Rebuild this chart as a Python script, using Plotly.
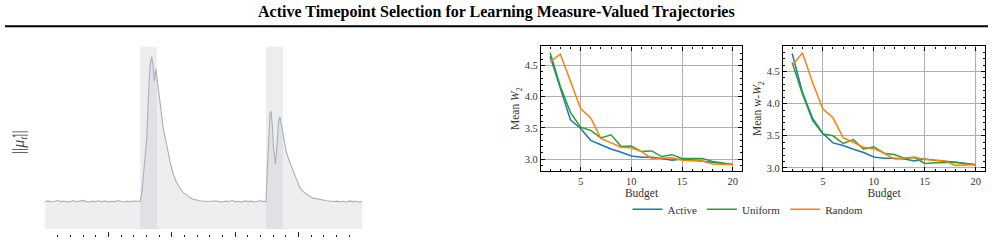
import plotly.graph_objects as go

# ---------------- data ----------------
# left panel: ||mu_dot_t|| signal, time t in [0,1]
t_base1 = [0.00,0.01,0.02,0.03,0.04,0.05,0.06,0.07,0.08,0.09,0.10,0.11,0.12,0.13,0.14,
           0.15,0.16,0.17,0.18,0.19,0.20,0.21,0.22,0.23,0.24,0.25,0.26,0.27,0.28,0.29]
mu_base1 = [0.158,0.163,0.157,0.161,0.165,0.159,0.162,0.156,0.160,0.164,0.158,0.161,0.166,0.159,0.157,
            0.162,0.160,0.164,0.158,0.163,0.156,0.161,0.159,0.165,0.160,0.157,0.162,0.158,0.163,0.160]
t_event1 = [0.300,0.305,0.312,0.321,0.326,0.331,0.3365,0.341,0.345,0.350,0.3575,0.363,0.373,0.384,
            0.394,0.405,0.415,0.426,0.436,0.447,0.457,0.468,0.489,0.510]
mu_event1 = [0.160,0.202,0.326,0.526,0.754,0.945,0.998,0.945,0.859,0.926,0.811,0.716,0.583,0.488,
             0.392,0.316,0.269,0.236,0.211,0.198,0.183,0.173,0.164,0.160]
t_base2 = [0.52,0.53,0.54,0.55,0.56,0.57,0.58,0.59,0.60,0.61,0.62,0.63,0.64,0.65,0.66,0.67,0.68,0.69]
mu_base2 = [0.161,0.158,0.163,0.159,0.157,0.162,0.160,0.165,0.158,0.161,0.156,0.163,0.159,0.162,0.157,
            0.161,0.164,0.159]
t_event2 = [0.697,0.701,0.706,0.710,0.713,0.717,0.721,0.727,0.732,0.737,0.741,0.747,0.754,0.762,
            0.773,0.783,0.794,0.804,0.815,0.831,0.847,0.868,0.889,0.910]
mu_event2 = [0.160,0.335,0.545,0.669,0.682,0.602,0.469,0.377,0.488,0.630,0.650,0.592,0.507,0.440,
             0.383,0.335,0.287,0.240,0.217,0.193,0.179,0.170,0.164,0.160]
t_base3 = [0.92,0.93,0.94,0.95,0.96,0.97,0.98,0.99,1.00]
mu_base3 = [0.162,0.158,0.161,0.157,0.163,0.159,0.161,0.156,0.160]

selected_windows = [(0.300, 0.353), (0.697, 0.751)]
left_ticks = [0.0, 0.2, 0.4, 0.6, 0.8, 1.0]

# right panels
budget = [2,3,4,5,6,7,8,9,10,11,12,13,14,15,16,17,18,19,20]
w2_active  = [4.65,4.12,3.63,3.49,3.30,3.23,3.16,3.11,3.05,3.03,3.03,3.01,2.98,3.00,2.98,2.97,2.95,2.93,2.91]
w2_uniform = [4.71,4.17,3.75,3.51,3.46,3.34,3.39,3.20,3.21,3.12,3.13,3.04,3.07,3.01,3.01,3.01,2.96,2.94,2.91]
w2_random  = [4.56,4.69,4.25,3.81,3.66,3.33,3.26,3.19,3.18,3.12,3.01,3.01,3.02,2.98,2.97,2.97,2.92,2.91,2.91]
ww2_active  = [4.78,4.18,3.77,3.54,3.39,3.35,3.29,3.24,3.17,3.15,3.15,3.14,3.11,3.14,3.12,3.11,3.09,3.07,3.05]
ww2_uniform = [4.64,4.15,3.74,3.53,3.50,3.38,3.44,3.29,3.33,3.23,3.21,3.15,3.16,3.07,3.08,3.08,3.09,3.07,3.05]
ww2_random  = [4.59,4.79,4.33,3.92,3.78,3.47,3.40,3.32,3.30,3.23,3.14,3.15,3.17,3.13,3.12,3.11,3.04,3.04,3.05]

series_names = ["Active", "Uniform", "Random"]
series_colors = ["#1f77b4", "#2ca02c", "#ff7f0e"]
y_ticks = [3.0, 3.5, 4.0, 4.5]
x_ticks = [5, 10, 15, 20]

# ---------------- figure ----------------
W, H = 992, 240
SERIF = "Liberation Serif"

def px_x(p):
    return p / W

def px_y(p):
    return 1 - p / H

t_all = t_base1 + t_event1 + t_base2 + t_event2 + t_base3
mu_all = mu_base1 + mu_event1 + mu_base2 + mu_event2 + mu_base3

fig = go.Figure()
fig.add_trace(go.Scatter(x=t_all, y=mu_all, mode="lines", fill="tozeroy",
                         fillcolor="rgba(195,200,206,0.30)",
                         line=dict(color="#aab0b6", width=1.1),
                         xaxis="x", yaxis="y", showlegend=False, hoverinfo="skip"))

panels = [("x2", "y2", [w2_active, w2_uniform, w2_random]),
          ("x3", "y3", [ww2_active, ww2_uniform, ww2_random])]
for pi, (xa, ya, data) in enumerate(panels):
    for name, col, vals in zip(series_names, series_colors, data):
        fig.add_trace(go.Scatter(x=budget, y=vals, mode="lines", name=name,
                                 line=dict(color=col, width=1.5),
                                 xaxis=xa, yaxis=ya, showlegend=(pi == 0)))

left_top = 1.057
for (a, b) in selected_windows:
    fig.add_shape(type="rect", xref="x", yref="y", x0=a, x1=b, y0=0, y1=left_top,
                  fillcolor="rgba(195,200,206,0.33)", line=dict(width=0), layer="below")

frame = dict(showline=True, linecolor="black", linewidth=1.3, mirror="ticks",
             ticks="inside", ticklen=4, tickwidth=0.8, tickcolor="black",
             showgrid=True, gridcolor="#b0b0b0", gridwidth=1, zeroline=False,
             tickfont=dict(family=SERIF, size=10.5, color="#333"))

fig.update_layout(
    width=W, height=H, margin=dict(l=0, r=0, t=0, b=0),
    paper_bgcolor="white", plot_bgcolor="rgba(0,0,0,0)",
    font=dict(family=SERIF, color="#333"),
    showlegend=True,
    legend=dict(orientation="h", x=px_x(748), y=px_y(212), xanchor="center", yanchor="middle",
                font=dict(family=SERIF, size=11, color="#333"), bgcolor="rgba(0,0,0,0)",
                itemwidth=30, tracegroupgap=0),
    xaxis=dict(domain=[px_x(45), px_x(362)], range=[0, 1], showgrid=False, zeroline=False,
               showline=False, ticks="inside", ticklen=5, tickwidth=0.8, tickcolor="#222",
               tickvals=left_ticks, showticklabels=False,
               minor=dict(ticks="inside", ticklen=2.5, tickwidth=0.8, tickcolor="#222", dtick=0.04)),
    yaxis=dict(domain=[0, px_y(47)], range=[-0.0457, left_top], visible=False),
    xaxis2=dict(domain=[px_x(541), px_x(742)], range=[1.1, 20.9], anchor="y2",
                tickvals=x_ticks,
                minor=dict(ticks="inside", ticklen=2, tickwidth=0.7, tickcolor="black", dtick=1, showgrid=False),
                title=dict(text="Budget", font=dict(family=SERIF, size=11.5, color="#333"), standoff=2),
                **frame),
    yaxis2=dict(domain=[px_y(173), px_y(47)], range=[2.81, 4.81], anchor="x2",
                tickvals=y_ticks, tickformat=".1f",
                minor=dict(ticks="inside", ticklen=2, tickwidth=0.7, tickcolor="black", dtick=0.1, showgrid=False),
                title=dict(text="Mean <i>W</i><sub>2</sub>", font=dict(family=SERIF, size=11.5, color="#333"), standoff=2),
                **frame),
    xaxis3=dict(domain=[px_x(783), px_x(985)], range=[1.1, 20.9], anchor="y3",
                tickvals=x_ticks,
                minor=dict(ticks="inside", ticklen=2, tickwidth=0.7, tickcolor="black", dtick=1, showgrid=False),
                title=dict(text="Budget", font=dict(family=SERIF, size=11.5, color="#333"), standoff=2),
                **frame),
    yaxis3=dict(domain=[px_y(173), px_y(47)], range=[2.955, 4.89], anchor="x3",
                tickvals=y_ticks, tickformat=".1f",
                minor=dict(ticks="inside", ticklen=2, tickwidth=0.7, tickcolor="black", dtick=0.1, showgrid=False),
                title=dict(text="Mean w-<i>W</i><sub>2</sub>", font=dict(family=SERIF, size=11.5, color="#333"), standoff=2),
                **frame),
)

# title and rule
fig.add_annotation(text="<b>Active Timepoint Selection for Learning Measure-Valued Trajectories</b>",
                   xref="paper", yref="paper", x=0.5, y=px_y(12.5), xanchor="center", yanchor="middle",
                   showarrow=False, font=dict(family=SERIF, size=16, color="black"))
fig.add_shape(type="line", xref="paper", yref="paper", x0=px_x(5), x1=px_x(988),
              y0=px_y(26.5), y1=px_y(26.5), line=dict(color="black", width=2))

# left y label
fig.add_annotation(text="||<i>μ̇</i><sub><i>t</i></sub>||", xref="paper", yref="paper",
                   x=px_x(19), y=px_y(144), xanchor="center", yanchor="middle", textangle=-90,
                   showarrow=False, font=dict(family=SERIF, size=16, color="#444"))

fig.write_html("out.html")
